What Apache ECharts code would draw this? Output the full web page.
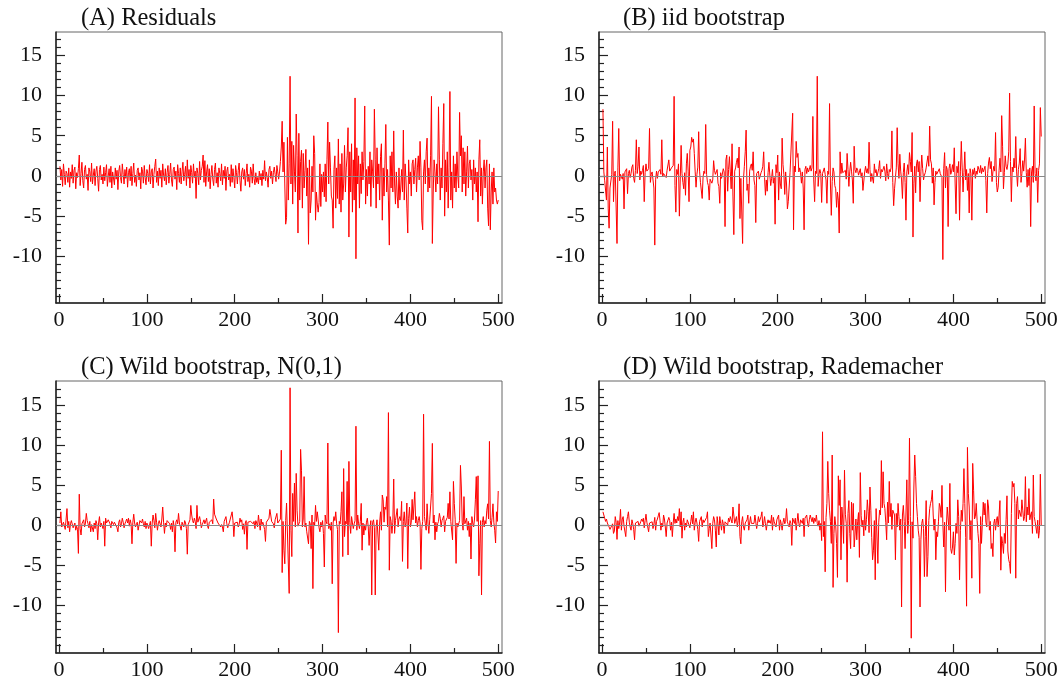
<!DOCTYPE html>
<html>
<head>
<meta charset="utf-8">
<script src="https://cdn.jsdelivr.net/npm/echarts@6/dist/echarts.min.js"></script>
<style>html,body{margin:0;padding:0;background:#fff}#c{width:1064px;height:682px}</style>
</head>
<body>
<div id="c"></div>
<script>
const titles = ['(A) Residuals', '(B) iid bootstrap', '(C) Wild bootstrap, N(0,1)', '(D) Wild bootstrap, Rademacher'];
const xMajor = [0, 100, 200, 300, 400, 500];
const xMinor = [50, 150, 250, 350, 450];
const yMajor = [-10, -5, 0, 5, 10, 15];
const yMinor = [-15,-14,-13,-12,-11,-9,-8,-7,-6,-4,-3,-2,-1,1,2,3,4,6,7,8,9,11,12,13,14,16,17];

const resA = [
1.2,-0.5,0.8,-1.3,1.5,0.2,-1.1,0.6,0.3,-0.8,
1.0,-1.4,0.5,-0.3,1.4,-0.9,0.7,1.1,-1.6,0.4,
-0.2,0.9,2.6,-1.2,0.3,1.7,-0.6,-1.5,0.8,1.3,
-0.4,0.2,-1.8,1.0,0.5,-0.7,1.6,-1.0,0.1,0.9,
-1.2,0.6,1.2,-0.3,-1.9,0.8,1.3,-0.5,0.2,-1.0,
1.1,-0.6,0.4,1.4,-1.3,0.0,0.9,-0.8,1.2,-1.5,
0.5,0.3,-1.1,1.0,-0.4,0.7,-1.7,0.6,1.3,-0.2,
-0.9,1.5,0.2,-1.0,0.8,-0.3,1.1,-1.4,0.4,0.9,
-0.6,1.2,-1.2,0.3,1.6,-0.8,0.1,-1.3,0.7,1.0,
-0.5,0.4,-1.6,1.1,0.6,-0.9,1.3,-0.2,-1.1,0.8,
0.3,-0.7,1.4,-1.0,0.5,0.9,-1.5,0.2,1.2,2.1,
-0.8,0.6,-1.2,1.0,-0.3,0.7,-1.4,1.5,0.1,-0.6,
0.9,-1.1,0.4,1.3,-0.9,0.2,1.6,-0.5,-1.3,0.8,
1.1,-0.4,0.6,-1.7,1.4,0.3,-0.8,1.0,-1.0,0.5,
1.7,-0.6,0.2,1.2,-1.2,2.0,-0.3,0.8,-1.5,1.3,
0.4,-0.9,1.5,-0.2,0.6,-2.8,1.0,0.3,-1.1,1.8,
-0.5,0.7,1.2,2.6,-0.8,1.9,-1.3,0.5,1.4,-0.7,
0.9,-1.6,0.2,1.3,-0.4,-1.2,0.8,1.6,-0.9,0.4,
-1.4,1.0,0.3,-0.6,1.5,-1.1,0.7,-0.3,1.2,-1.8,
0.6,1.1,-0.5,0.2,-1.3,1.4,-0.8,0.9,-0.2,-1.5,
1.3,0.4,-1.0,0.7,1.6,-0.6,-1.9,0.5,1.0,-0.4,
0.8,-1.2,0.3,1.5,-0.7,0.2,-1.4,1.1,0.6,-0.9,
1.5,-0.3,-1.1,0.4,-0.8,-0.2,-1.0,0.6,-0.5,0.3,
-1.2,0.7,-0.4,1.9,-0.6,0.5,-0.2,-1.4,0.8,1.2,
-0.3,0.6,-1.0,0.4,1.1,0.2,-0.7,1.3,0.5,-0.4,
0.5,1.8,3.6,6.8,0.5,4.2,-1.0,-6.0,-5.2,4.8,
-3.0,1.5,12.4,-1.0,4.3,-3.5,3.8,0.5,-2.0,7.7,
2.5,-7.1,5.3,-3.0,1.8,3.2,-4.0,2.8,-1.5,0.7,
3.3,-2.5,1.0,-8.5,2.0,-4.6,-3.0,1.2,-2.0,5.0,
2.8,-5.5,-2.0,-3.5,-4.5,-3.3,1.5,-3.8,0.2,-2.0,
0.5,-2.6,1.5,-3.2,2.0,6.7,-1.0,4.2,1.0,-2.5,
-3.0,-6.5,0.8,2.5,-4.0,1.0,-2.8,4.6,-3.5,1.5,
-4.5,2.8,-3.0,-1.0,3.8,-2.0,1.0,2.5,6.0,-7.6,
3.0,-2.0,4.0,-4.5,2.0,-3.0,9.7,-10.3,3.5,-1.0,
2.5,-4.0,1.5,-2.2,3.0,-0.5,1.8,8.7,-3.5,0.8,
-2.5,1.2,-1.0,3.0,-3.8,2.0,0.5,-1.5,8.3,2.0,
-4.0,3.5,-1.0,1.5,-3.0,2.4,4.0,-5.5,1.0,-2.5,
1.5,6.4,-2.0,0.8,-3.0,-8.6,2.5,-1.5,3.0,-2.0,
5.6,-1.0,-3.5,0.5,-2.5,-4.0,1.0,-3.0,-1.5,0.8,
-2.0,5.7,-3.0,1.5,-0.5,-4.0,-7.1,2.0,-1.0,0.5,
-2.5,1.5,2.0,-1.0,0.8,2.2,-2.0,1.0,2.5,-0.5,
4.3,1.0,-5.5,-6.7,0.5,2.0,-1.0,3.0,4.7,-2.0,
1.0,-1.5,2.5,9.9,-8.4,-2.0,2.0,0.5,-2.0,1.5,
-1.0,8.6,2.0,-3.0,1.0,-1.5,4.0,9.0,-5.0,2.0,
-2.0,3.0,-4.0,1.0,10.5,-3.0,0.5,-4.0,2.5,-1.5,
1.5,-2.0,3.0,0.0,-1.5,7.9,2.5,5.0,-2.0,3.5,
-1.0,3.0,-2.5,0.5,3.7,-1.5,1.5,2.0,-0.5,0.8,
-3.0,2.0,-1.0,1.0,-2.0,0.5,-5.7,2.0,4.5,-2.5,
1.0,-3.5,0.5,2.0,-1.5,1.0,2.0,-4.0,-6.2,1.5,
-6.7,-2.0,0.5,-3.5,1.0,-2.0,-1.5,-3.0,-3.5,-3.0
];

const resB = [
8.3,0.5,-0.6,-0.4,-3.0,3.6,-4.1,-6.5,-1.5,-1.6,
0.2,6.8,-3.2,0.3,0.6,0.8,-8.4,1.0,5.9,-0.6,
0.2,0.3,-0.4,0.3,-4.1,0.5,0.5,0.9,-2.2,0.3,
0.7,-0.2,0.3,1.1,1.4,-0.3,-0.8,0.7,4.5,0.3,
1.2,3.6,-0.5,0.6,0.2,0.7,1.3,-3.2,0.4,1.5,
0.6,0.5,0.9,5.9,-0.8,0.2,0.5,0.3,-1.5,-8.6,
-0.4,0.6,-0.3,0.5,0.4,0.8,0.2,4.5,-0.1,0.3,
0.4,0.5,-0.2,0.7,0.9,2.0,0.6,0.7,1.0,1.1,
1.3,9.9,-1.2,-4.5,0.8,0.2,1.5,-5.0,-0.5,3.8,
0.3,-0.8,-1.6,0.4,-2.4,1.5,2.8,0.6,-3.2,3.2,
3.6,4.8,4.2,4.6,2.8,0.5,-1.4,0.2,1.1,5.5,
0.6,-0.8,-1.0,-2.8,-0.1,0.6,0.3,6.4,0.2,-0.8,
-1.2,-3.0,-0.4,-0.6,-0.9,-0.5,1.9,0.7,0.2,0.5,
0.8,-0.9,-1.3,-3.4,0.4,-0.3,-0.2,0.9,0.5,-6.3,
2.0,2.6,-1.9,0.8,2.4,0.5,-1.6,4.0,-2.5,-7.3,
0.6,1.0,1.7,2.2,1.0,3.6,-5.3,-0.3,-0.2,-8.4,
-0.4,1.2,3.0,5.7,-1.8,-1.0,-3.4,0.6,1.2,1.5,
0.7,3.0,-0.5,-1.2,-5.8,0.3,0.2,0.6,-0.4,-0.2,
0.4,0.7,1.2,3.0,-0.2,-2.4,-0.5,-1.9,0.4,1.7,
0.1,-1.2,-0.3,0.8,-0.9,-0.2,-6.0,1.4,0.4,2.6,
-3.0,0.5,-1.0,-1.6,4.7,1.4,0.2,-2.3,0.5,-1.0,
-4.1,-3.2,-3.3,0.4,0.6,0.2,7.8,-6.7,1.2,0.5,
4.3,2.3,2.8,0.5,1.0,0.4,-0.9,0.5,-1.5,-6.7,
0.8,1.2,0.3,1.0,0.5,0.8,1.3,0.6,1.0,7.4,
-0.5,-3.2,0.6,0.3,12.4,-1.3,0.2,0.8,0.3,-3.3,
0.3,0.5,1.0,0.2,-0.5,-3.4,0.6,0.2,9.0,-1.0,
-4.9,-0.7,1.0,0.5,-1.2,-1.6,-3.9,-2.0,-3.0,-7.1,
3.0,0.3,1.6,0.4,0.5,0.2,0.7,-0.4,2.8,0.8,
-1.3,0.5,1.7,0.6,-0.5,-3.4,3.7,0.8,0.4,1.0,
0.7,0.1,0.3,0.9,-0.2,0.4,-1.8,-1.9,0.5,1.2,
0.4,0.9,0.3,4.2,0.8,-0.7,0.3,0.2,-0.9,1.5,
0.4,0.8,-0.1,0.1,0.9,1.9,-0.3,0.8,0.5,0.4,
1.2,0.6,-0.6,1.5,0.3,-0.4,0.8,0.5,1.0,5.6,
-0.8,-3.7,-1.6,-0.2,1.0,6.0,1.5,-0.3,2.7,0.6,
-0.5,-2.8,0.4,1.6,-0.8,-5.5,0.5,1.4,0.2,2.9,
1.8,0.5,5.4,-7.6,-0.9,1.2,-2.1,1.5,2.0,0.5,
1.8,-3.2,0.6,2.6,0.9,-0.5,0.1,0.4,1.0,0.8,
2.5,1.2,6.2,2.0,1.5,-0.9,1.0,-3.6,-0.8,0.6,
0.2,0.4,0.1,0.9,0.3,0.5,-0.2,-10.4,0.9,2.9,
-1.5,1.2,0.8,-6.3,0.9,1.5,0.2,0.6,1.4,0.5,
3.5,-1.0,-4.7,1.2,0.4,1.8,-5.5,0.6,4.3,1.0,
-2.0,0.4,3.0,-0.5,0.8,-1.8,0.3,-4.6,0.9,0.3,
-5.5,0.8,0.2,1.0,-0.3,0.6,0.2,1.2,0.8,0.4,
1.3,0.3,1.0,0.5,0.7,1.2,-0.6,-4.6,0.3,1.6,
2.3,0.9,1.8,-0.7,0.5,1.2,0.6,5.4,-0.8,-2.0,
-1.4,0.7,2.2,0.5,7.5,3.7,-1.6,0.4,2.5,1.2,
0.8,1.5,3.0,10.3,1.8,-3.2,1.1,0.5,2.2,1.0,
4.9,0.5,-1.3,0.8,1.6,3.4,-0.8,0.3,1.9,0.6,
2.1,4.7,0.4,-1.4,0.8,-1.2,1.0,-6.3,0.5,1.2,
-0.8,8.7,0.3,-0.6,1.0,-3.3,0.7,1.5,8.5,4.9
];

const resC = [
0.3,1.7,-0.2,0.1,0.4,0.2,-0.5,0.8,2.1,-0.3,
0.5,-0.8,0.2,0.6,0.4,-0.3,-0.2,0.3,-0.6,-0.1,
-0.5,-3.5,3.9,-0.4,-1.2,0.2,0.4,0.7,-0.2,0.3,
1.5,0.6,0.2,-0.3,0.5,-0.8,0.1,0.2,-0.8,0.3,
-0.4,0.6,0.2,-1.8,0.3,1.1,-0.2,0.3,0.1,-0.4,
0.5,-2.6,0.9,0.3,0.1,0.7,0.6,0.2,-0.3,0.5,
0.3,0.1,0.4,0.2,0.5,-0.3,-0.8,0.4,0.7,-0.2,
0.2,0.9,0.4,-0.3,0.2,0.5,0.8,0.3,0.9,-0.1,
0.7,0.2,-2.3,0.4,1.4,0.3,-0.2,0.1,0.4,-0.6,
-0.5,0.6,0.7,0.3,0.8,0.2,-0.2,0.5,-0.4,0.3,
0.2,-0.4,-0.3,0.5,-2.6,0.3,1.3,0.6,-0.3,1.5,
0.4,-0.6,0.2,0.6,0.5,-0.2,0.8,2.3,0.4,-1.0,
0.3,-0.2,0.6,0.4,0.5,0.2,-0.5,0.3,-0.8,0.6,
-0.2,-3.3,0.4,0.7,0.2,1.5,0.3,0.5,-0.6,0.4,
0.2,-0.2,0.6,0.3,-0.4,-3.6,0.1,0.3,0.7,2.5,
1.3,0.6,0.3,0.9,0.5,-0.4,2.5,0.4,0.2,1.1,
0.5,-0.3,0.1,0.4,0.7,0.2,0.3,0.9,-0.1,-0.4,
0.4,0.6,0.3,0.7,0.2,3.3,1.4,1.5,0.8,0.9,
0.3,0.4,0.5,-0.2,0.1,-0.2,-0.8,0.5,0.3,1.1,
0.2,-0.3,-0.4,0.4,0.3,0.5,1.7,0.6,-1.4,0.3,
0.5,0.2,0.4,-0.2,0.1,0.9,0.4,0.7,-0.5,0.2,
-1.1,0.3,0.6,-3.0,0.4,0.6,0.2,0.5,0.3,0.4,
0.2,0.5,-0.4,0.6,0.3,-0.2,1.3,0.3,-0.6,0.8,
0.1,0.4,0.6,-0.5,-2.0,0.4,0.3,0.5,0.9,2.0,
1.3,0.5,0.4,0.2,-0.3,0.7,0.6,1.5,0.3,0.5,
0.4,0.8,9.4,-5.9,0.5,-3.1,-4.8,0.6,2.8,2.9,
2.8,-8.5,17.2,-0.6,-3.9,4.0,0.5,5.3,-0.2,6.5,
1.9,-0.1,-0.2,0.5,9.5,6.9,-0.2,0.8,6.1,-0.2,
0.3,-0.8,-0.6,-2.3,0.5,0.2,-2.9,1.3,-7.9,0.4,
0.0,2.5,0.5,1.7,1.9,-0.3,-0.8,0.4,-0.2,0.6,
-1.0,-5.2,1.3,0.5,0.2,10.3,-0.4,0.2,-0.6,0.4,
-7.3,0.3,1.1,0.6,1.7,0.2,-0.5,-13.4,0.5,0.2,
1.7,4.2,-3.9,7.1,-1.4,0.5,0.2,5.5,-3.7,8.0,
0.4,-1.0,1.1,0.3,-0.4,0.2,0.6,12.4,-0.6,1.3,
0.2,-0.4,0.5,2.75,-3.1,0.3,-1.2,0.1,-0.6,0.4,
0.9,-0.2,-2.5,-0.2,0.6,-8.7,0.4,0.7,-0.3,-8.7,
-0.2,0.7,0.8,-3.1,0.3,1.7,-0.6,3.8,3.2,0.4,
2.3,2.0,3.6,-0.2,14.1,-5.6,1.1,0.5,-1.0,0.4,
5.8,-1.0,0.6,0.7,2.1,-0.2,0.8,1.1,0.6,3.0,
-4.5,0.5,1.7,-0.2,0.3,2.8,-5.4,0.9,2.3,-0.2,
0.4,3.25,0.7,0.7,4.2,0.3,1.1,-0.2,0.6,1.1,
0.3,-5.5,-0.4,0.5,13.9,1.1,0.2,-0.6,2.7,0.3,
-1.0,0.7,0.6,4.0,10.25,0.3,1.3,-1.8,0.4,-0.8,
0.2,0.5,1.5,0.9,-0.2,0.6,0.9,1.2,-0.8,0.5,
0.4,1.0,2.75,0.8,4.2,0.5,0.5,-1.8,5.5,2.75,
0.7,-4.75,0.3,-0.2,-0.2,0.6,7.5,4.8,0.4,-0.6,
3.6,0.2,0.3,0.9,-0.6,0.5,-1.4,0.3,-4.2,1.1,
0.3,-0.2,0.8,3.2,6.1,0.5,6.2,-6.3,-2.3,0.6,
-8.7,0.4,1.1,-0.2,0.6,0.2,1.9,2.7,0.8,10.5,
0.6,-0.2,1.0,2.7,0.4,-0.6,-2.2,1.7,0.5,4.3
];

const resD = [
1.7,1.8,0.9,0.5,0.8,0.3,0.2,-0.2,-0.5,-0.3,
-0.6,0.2,-1.0,-0.7,1.1,0.4,-1.75,0.6,-0.4,0.3,
2.0,-0.6,0.8,1.1,-0.1,-0.3,-1.4,0.5,1.1,1.7,
0.4,-0.2,-0.6,0.7,0.2,-0.5,-1.8,0.3,0.25,0.4,
0.5,-0.1,0.1,0.45,0.8,0.5,0.9,-0.3,0.6,1.4,
0.4,-0.2,-0.8,0.3,0.25,0.5,0.45,-0.4,0.2,1.0,
-0.6,0.5,0.8,1.2,1.6,0.6,-0.6,0.3,-0.2,1.3,
0.8,-0.2,-1.4,0.3,0.25,1.0,0.6,-0.6,0.4,-1.4,
0.3,1.5,0.25,0.8,0.3,1.1,0.6,2.1,-0.2,1.7,
-1.6,0.4,0.9,-0.6,0.3,-0.2,0.7,0.6,0.05,-0.3,
0.5,1.3,0.2,1.7,-0.6,0.4,0.9,0.3,-0.5,-2.0,
0.5,0.45,1.1,-0.2,0.7,0.35,0.6,0.2,1.0,1.7,
-1.4,-0.4,0.3,0.1,-2.9,0.25,1.1,0.7,-0.6,-2.7,
1.1,0.2,-1.2,1.1,0.25,-0.6,0.7,0.2,-1.0,0.45,
0.2,0.5,0.05,0.9,0.45,1.1,0.7,0.3,2.3,2.1,
0.25,0.3,1.1,-0.2,0.6,2.7,-1.4,-2.3,0.45,1.1,
-0.2,-0.6,0.3,0.45,0.7,1.3,-0.6,0.3,1.1,0.25,
0.2,0.45,0.25,1.3,1.1,-0.4,0.25,1.1,0.45,0.35,
1.1,1.7,-0.2,0.25,1.1,0.2,-0.6,0.25,0.7,0.3,
0.6,0.25,1.3,-0.6,1.0,0.45,0.2,-0.2,0.7,0.45,
1.3,-0.6,0.7,0.2,-0.6,0.35,0.9,0.2,0.5,2.1,
0.45,0.1,-0.2,0.6,0.25,-2.5,0.9,0.7,0.25,0.9,
-0.6,0.45,1.5,0.25,-0.2,0.7,0.5,0.25,0.9,-1.4,
0.9,1.1,1.3,0.25,-0.2,0.7,1.3,1.1,0.45,1.0,
0.25,0.9,0.5,1.3,0.25,-0.1,0.6,-0.6,0.25,-1.9,
11.7,-1.4,0.5,-5.8,1.0,2.75,8.0,4.0,1.9,0.5,
-2.25,8.8,-7.75,-1.0,1.1,0.05,-2.25,-6.5,6.2,2.5,
5.7,-4.3,2.3,0.8,-2.25,6.9,1.4,0.25,-7.1,1.5,
3.1,-1.0,-2.9,2.9,-0.6,2.75,-2.7,-1.2,0.8,-1.8,
0.45,1.6,-4.0,6.6,1.2,-0.2,0.65,-1.3,1.9,-0.6,
0.7,3.2,1.7,-0.9,4.8,1.9,-1.5,-4.3,-3.1,0.6,
-6.8,2.1,2.3,-4.75,0.4,1.9,1.3,8.1,2.2,6.7,
2.75,2.1,0.4,-1.8,2.9,0.3,5.5,1.1,2.75,-0.5,
1.9,1.7,1.3,-4.3,1.5,-0.2,2.75,1.1,-0.6,0.8,
-10.2,1.3,2.5,0.5,-2.9,-2.7,5.7,-1.0,0.6,10.9,
1.1,-14.1,0.45,-1.6,4.8,8.8,6.1,2.75,1.1,-0.6,
-1.5,-10.2,-1.8,0.25,0.8,-0.4,-6.4,-1.4,3.1,-6.4,
-3.9,0.6,2.1,2.75,3.2,4.4,1.3,-0.6,0.8,-4.3,
-0.8,-1.4,0.45,2.75,2.3,1.0,5.0,0.25,-2.7,0.4,
-8.3,-0.2,2.3,2.1,-0.6,5.25,-2.9,-3.5,-2.7,-0.8,
-3.7,-2.25,0.25,-1.0,3.2,1.1,-6.8,-0.6,1.9,0.5,
2.75,7.1,2.75,-1.5,-10.1,9.75,4.0,2.3,-1.8,0.6,
-6.6,7.75,4.4,0.8,1.1,2.75,0.65,-1.0,-2.25,-8.5,
1.1,-2.25,0.4,2.9,1.3,2.75,0.4,-0.2,3.2,2.3,
-0.6,0.5,-2.9,-2.25,-3.9,0.25,0.8,-0.6,0.65,1.1,
-0.2,1.3,3.1,-5.6,-1.4,-2.25,-3.5,-1.0,-2.25,0.7,
3.7,-3.2,-4.3,-4.75,-6.0,1.5,5.5,4.8,5.25,2.75,
-6.6,2.75,3.6,0.8,1.9,1.7,1.1,3.2,1.9,0.6,
1.1,6.1,0.45,2.3,1.3,4.6,0.7,1.3,1.7,-1.0,
6.3,1.1,0.5,0.25,-1.0,0.65,-1.6,-0.6,6.4,0.05
];

const seriesData = [resA, resB, resC, resD];
const grids = [
  {left: 56, top: 32, width: 446, height: 271},
  {left: 599, top: 32, width: 446, height: 271},
  {left: 56, top: 381, width: 446, height: 272},
  {left: 599, top: 381, width: 446, height: 272}
];
const yRanges = [[-15.8, 17.9], [-15.8, 17.9], [-15.95, 18.05], [-15.95, 18.05]];
const titlePos = [[81, 7], [623, 7], [81, 356], [623, 356]];
const FONT = 'Liberation Serif, Times New Roman, serif';

const chart = echarts.init(document.getElementById('c'), null, {renderer: 'canvas'});
const option = {
  backgroundColor: '#ffffff',
  animation: false,
  title: titles.map((t, i) => ({
    text: t, left: titlePos[i][0], top: titlePos[i][1], padding: 0,
    textStyle: {fontFamily: FONT, fontSize: 24.5, fontWeight: 'normal', color: '#111', lineHeight: 24}
  })),
  grid: grids.map(g => Object.assign({show: true, borderColor: '#666', borderWidth: 1, backgroundColor: 'transparent', outerBoundsMode: 'none'}, g)),
  xAxis: [],
  yAxis: [],
  series: []
};
for (let i = 0; i < 4; i++) {
  option.xAxis.push({
    type: 'value', gridIndex: i, position: 'bottom', min: -3.5, max: 504.3,
    axisLine: {show: true, onZero: false, lineStyle: {color: '#222', width: 1.5}},
    axisTick: {show: true, inside: true, length: 9, customValues: xMajor, lineStyle: {color: '#222', width: 1.2}},
    axisLabel: {show: true, customValues: xMajor, fontFamily: FONT, fontSize: 22, color: '#111', margin: 6},
    splitLine: {show: false}
  });
  option.xAxis.push({
    type: 'value', gridIndex: i, position: 'bottom', min: -3.5, max: 504.3,
    axisLine: {show: false, onZero: false},
    axisTick: {show: true, inside: true, length: 5, customValues: xMinor, lineStyle: {color: '#222', width: 1.2}},
    axisLabel: {show: false},
    splitLine: {show: false}
  });
  option.yAxis.push({
    type: 'value', gridIndex: i, position: 'left', min: yRanges[i][0], max: yRanges[i][1],
    axisLine: {show: true, onZero: false, lineStyle: {color: '#222', width: 1.5}},
    axisTick: {show: true, inside: true, length: 9, customValues: yMajor, lineStyle: {color: '#222', width: 1.2}},
    axisLabel: {show: true, customValues: yMajor, fontFamily: FONT, fontSize: 22, color: '#111', margin: 14},
    splitLine: {show: false}
  });
  option.yAxis.push({
    type: 'value', gridIndex: i, position: 'left', min: yRanges[i][0], max: yRanges[i][1],
    axisLine: {show: false, onZero: false},
    axisTick: {show: true, inside: true, length: 5, customValues: yMinor, lineStyle: {color: '#222', width: 1.2}},
    axisLabel: {show: false},
    splitLine: {show: false}
  });
  option.series.push({
    type: 'line', xAxisIndex: 2 * i, yAxisIndex: 2 * i,
    data: seriesData[i].map((v, k) => [k + 1, v]),
    showSymbol: false, symbol: 'none',
    lineStyle: {color: '#ff0000', width: 1},
    itemStyle: {color: '#ff0000'},
    markLine: {
      silent: true, symbol: ['none', 'none'], label: {show: false},
      lineStyle: {color: '#888', width: 1, type: 'solid'},
      data: [{yAxis: 0}]
    }
  });
}
chart.setOption(option);
</script>
</body>
</html>
